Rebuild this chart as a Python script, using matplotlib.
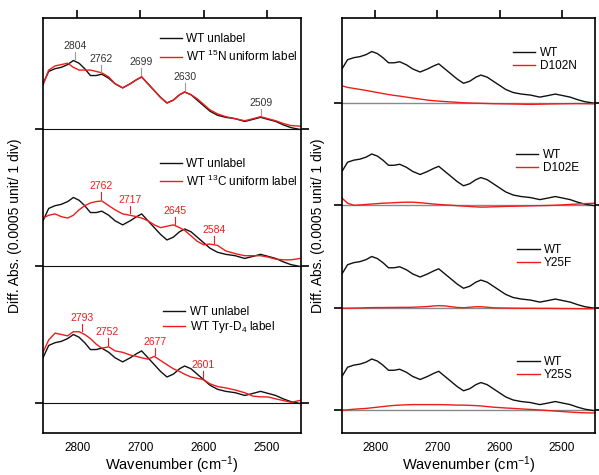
import matplotlib.pyplot as plt
from matplotlib.legend import Legend
import numpy as np

plt.rcParams['font.family'] = ['Liberation Sans', 'DejaVu Sans']
plt.rcParams['mathtext.fontset'] = 'custom'
plt.rcParams['mathtext.rm'] = 'Liberation Sans'
plt.rcParams['mathtext.it'] = 'Liberation Sans:italic'

# wavenumber grid (cm-1)
wn = [2854, 2845, 2835, 2825, 2815, 2806, 2797, 2788, 2779, 2770, 2761, 2750, 2740,
      2728, 2716, 2706, 2698, 2688, 2678, 2668, 2658, 2648, 2638, 2630, 2620, 2610,
      2600, 2590, 2578, 2565, 2550, 2535, 2522, 2510, 2498, 2486, 2474, 2462, 2446]

# difference spectra, in divisions (1 div = 0.0005 abs)
wt = [0.33, 0.42, 0.44, 0.45, 0.47, 0.50, 0.48, 0.44, 0.39, 0.39, 0.40, 0.37, 0.33,
      0.30, 0.33, 0.36, 0.38, 0.33, 0.28, 0.23, 0.19, 0.21, 0.25, 0.27, 0.25, 0.21,
      0.17, 0.13, 0.10, 0.085, 0.075, 0.055, 0.07, 0.085, 0.07, 0.055, 0.03, 0.01, -0.005]
n15 = [0.32, 0.43, 0.46, 0.47, 0.48, 0.45, 0.43, 0.43, 0.43, 0.42, 0.41, 0.38, 0.33,
       0.30, 0.33, 0.36, 0.38, 0.33, 0.28, 0.23, 0.19, 0.21, 0.25, 0.27, 0.25, 0.22,
       0.18, 0.14, 0.11, 0.09, 0.075, 0.06, 0.075, 0.09, 0.075, 0.06, 0.04, 0.025, 0.02]
c13 = [0.35, 0.37, 0.38, 0.36, 0.35, 0.37, 0.41, 0.44, 0.46, 0.47, 0.475, 0.44, 0.41,
       0.38, 0.37, 0.36, 0.35, 0.33, 0.30, 0.28, 0.29, 0.30, 0.28, 0.26, 0.22, 0.18,
       0.155, 0.16, 0.15, 0.11, 0.09, 0.075, 0.075, 0.075, 0.065, 0.05, 0.045, 0.045, 0.056]
tyr_d4 = [0.37, 0.46, 0.51, 0.50, 0.49, 0.52, 0.52, 0.50, 0.47, 0.43, 0.40, 0.41, 0.38,
          0.37, 0.35, 0.34, 0.33, 0.32, 0.34, 0.31, 0.28, 0.25, 0.23, 0.21, 0.19, 0.18,
          0.17, 0.14, 0.12, 0.11, 0.095, 0.075, 0.05, 0.045, 0.044, 0.03, 0.018, 0.005, 0.02]

d102n = [0.165, 0.15, 0.14, 0.13, 0.12, 0.11, 0.10, 0.09, 0.08, 0.072, 0.065, 0.055, 0.046,
         0.036, 0.026, 0.02, 0.016, 0.012, 0.008, 0.004, 0.0, -0.002, -0.004, -0.005, -0.007,
         -0.009, -0.01, -0.011, -0.012, -0.014, -0.016, -0.014, -0.012, -0.011, -0.01,
         -0.009, -0.008, -0.009, -0.01]
d102e = [0.07, 0.02, 0.0, 0.003, 0.008, 0.012, 0.016, 0.02, 0.022, 0.025, 0.028, 0.03, 0.03,
         0.025, 0.018, 0.012, 0.008, 0.004, 0.0, -0.004, -0.008, -0.012, -0.016, -0.018,
         -0.017, -0.015, -0.013, -0.011, -0.01, -0.008, -0.006, -0.004, -0.002, 0.0, 0.004,
         0.008, 0.012, 0.016, 0.02]
y25f = [-0.005, -0.004, -0.003, -0.002, 0.0, 0.001, 0.002, 0.002, 0.003, 0.003, 0.004, 0.004,
        0.005, 0.008, 0.012, 0.018, 0.02, 0.018, 0.01, 0.003, 0.0, 0.005, 0.01, 0.01, 0.005,
        0.0, -0.002, -0.003, -0.004, -0.005, -0.005, -0.006, -0.006, -0.007, -0.008, -0.008,
        -0.009, -0.01, -0.01]
y25s = [0.0, 0.004, 0.01, 0.014, 0.018, 0.024, 0.03, 0.036, 0.042, 0.047, 0.05, 0.053, 0.055,
        0.055, 0.055, 0.055, 0.055, 0.054, 0.052, 0.05, 0.05, 0.048, 0.045, 0.042, 0.036,
        0.03, 0.026, 0.022, 0.018, 0.013, 0.008, 0.003, -0.003, -0.008, -0.013, -0.018,
        -0.022, -0.025, -0.027]

# peak labels
peaks_n15 = [2804, 2762, 2699, 2630, 2509]
peaks_c13 = [2762, 2717, 2645, 2584]
peaks_d4 = [2793, 2752, 2677, 2601]

BLACK = '#111111'
RED = '#ee1c1c'

fig = plt.figure(figsize=(5.99, 4.75), dpi=100)
axl = fig.add_axes([43 / 599, 42 / 475, 258 / 599, 415 / 475])
axr = fig.add_axes([342 / 599, 42 / 475, 253 / 599, 415 / 475])


def add_legend(ax, lines, labels, x, y, spacing=0.25):
    leg = Legend(ax, lines, labels, loc='upper left', bbox_to_anchor=(x, y),
                 frameon=False, fontsize=8.5, handlelength=1.9, handletextpad=0.35,
                 labelspacing=spacing, borderpad=0, borderaxespad=0)
    ax.add_artist(leg)


def label_peaks(ax, peaks, series, offset, color, tick_color):
    xs = np.array(wn[::-1])
    ys = np.array(series[::-1])
    for p in peaks:
        y = np.interp(p, xs, ys) + offset
        ax.plot([p, p], [y + 0.015, y + 0.065], color=tick_color, lw=0.8)
        ax.text(p, y + 0.072, str(p), color=color, fontsize=7.5, ha='center', va='bottom')


# left panel: isotope labels, offsets 2, 1, 0
left_sets = [(2, n15, 'WT $^{15}$N uniform label', (0.453, 0.964), 0.3),
             (1, c13, 'WT $^{13}$C uniform label', (0.453, 0.663), 0.3),
             (0, tyr_d4, 'WT Tyr-D$_4$ label', (0.465, 0.306), 0.1)]
for off, red, lab, pos, sp in left_sets:
    axl.axhline(off, color=BLACK, lw=0.8, zorder=1)
    l1, = axl.plot(wn, np.array(wt) + off, color=BLACK, lw=1.0)
    l2, = axl.plot(wn, np.array(red) + off, color=RED, lw=1.0)
    add_legend(axl, [l1, l2], ['WT unlabel', lab], *pos, spacing=sp)

label_peaks(axl, peaks_n15, wt, 2, '#333333', '#999999')
label_peaks(axl, peaks_c13, c13, 1, RED, RED)
label_peaks(axl, peaks_d4, tyr_d4, 0, RED, RED)

# right panel: mutants, offsets 3, 2, 1, 0
right_sets = [(3, d102n, 'D102N', (0.676, 0.930)),
              (2, d102e, 'D102E', (0.688, 0.684)),
              (1, y25f, 'Y25F', (0.692, 0.455)),
              (0, y25s, 'Y25S', (0.692, 0.186))]
for off, red, lab, pos in right_sets:
    axr.axhline(off, color='#8a8a8a', lw=1.0, zorder=1)
    l1, = axr.plot(wn, np.array(wt) + off, color=BLACK, lw=1.0)
    l2, = axr.plot(wn, np.array(red) + off, color=RED, lw=1.0)
    add_legend(axr, [l1, l2], ['WT', lab], *pos, spacing=0.1)

axl.set_ylim(-0.219, 2.81)
axr.set_ylim(-0.222, 3.827)
axl.set_yticks([0, 1, 2])
axr.set_yticks([0, 1, 2, 3])

for ax in (axl, axr):
    ax.set_xlim(2854, 2446)
    ax.set_xticks([2800, 2700, 2600, 2500])
    ax.tick_params(axis='x', bottom=True, top=True, direction='out',
                   length=6, width=1.2, pad=0.5, labelsize=8.5, labeltop=False)
    ax.tick_params(axis='y', left=True, right=True, direction='out', length=6,
                   width=1.2, labelleft=False)
    for s in ax.spines.values():
        s.set_linewidth(1.2)
    ax.set_xlabel('Wavenumber (cm$^{-1}$)', fontsize=10.5)
    ax.set_ylabel('Diff. Abs. (0.0005 unit/ 1 div)', fontsize=10)
    # bottom ticks hidden, only the top ones show
    for t in ax.xaxis.get_major_ticks():
        t.tick1line.set_visible(False)
    ax.xaxis.set_label_coords(0.5, -0.052)
    ax.xaxis.label.set_va('top')

axl.yaxis.set_label_coords(-0.081, 0.5)
axr.yaxis.set_label_coords(-0.067, 0.5)

fig.savefig('out.png', dpi=100)
